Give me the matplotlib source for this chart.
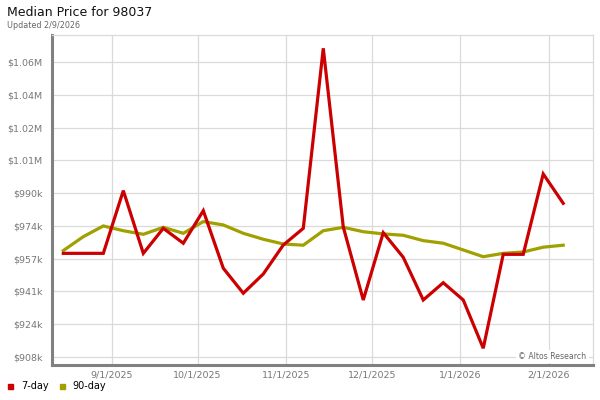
"""Median price chart for 98037: 7-day vs 90-day rolling median."""
from datetime import datetime

import matplotlib
matplotlib.use("Agg")
import matplotlib.pyplot as plt
import matplotlib.dates as mdates
import pandas as pd

# weekly observation dates
DATES = pd.date_range("2025-08-15", periods=26, freq="7D")

# median list price, $
SEVEN_DAY = [960200, 960200, 960200, 991800, 960200, 972800, 965300, 981700,
             952700, 940100, 949800, 964400, 972800, 1063500, 973500, 936700,
             970600, 958200, 936700, 945400, 936700, 912400, 959700, 959700,
             1000200, 985400]
NINETY_DAY = [961600, 968600, 974000, 971600, 969800, 973300, 970300, 976200,
              974500, 970300, 967300, 964900, 964300, 971600, 973300, 971100,
              970000, 969300, 966600, 965300, 961900, 958500, 960200, 960900,
              963300, 964300]

Y_TICKS = [908000, 924500, 941000, 957500, 974000, 990500, 1007000, 1023500,
           1040000, 1056500]
Y_LABELS = ["$908k", "$924k", "$941k", "$957k", "$974k", "$990k", "$1.01M",
            "$1.02M", "$1.04M", "$1.06M"]
X_TICKS = [datetime(2025, 9, 1), datetime(2025, 10, 1), datetime(2025, 11, 1),
           datetime(2025, 12, 1), datetime(2026, 1, 1), datetime(2026, 2, 1)]
X_LABELS = ["9/1/2025", "10/1/2025", "11/1/2025", "12/1/2025", "1/1/2026",
            "2/1/2026"]

RED = "#cc0000"
OLIVE = "#a0a000"
GRID = "#dadada"
SPINE = "#808080"

fig = plt.figure(figsize=(6, 4), dpi=100)
ax = fig.add_axes([0.0867, 0.08875, 0.9016, 0.82375])

ax.plot(DATES, NINETY_DAY, color=OLIVE, lw=2.3, solid_joinstyle="miter")
ax.plot(DATES, SEVEN_DAY, color=RED, lw=2.3, solid_joinstyle="miter")

ax.set_xlim(datetime(2025, 8, 11, 1), datetime(2026, 2, 16, 10))
ax.set_ylim(904200, 1070200)
ax.set_yticks(Y_TICKS)
ax.set_yticklabels(Y_LABELS)
ax.set_xticks(X_TICKS)
ax.set_xticklabels(X_LABELS)
ax.tick_params(length=0, labelsize=6.8, labelcolor="#777777")
ax.tick_params(axis="y", pad=7)
ax.tick_params(axis="x", pad=4)
ax.grid(color=GRID, lw=0.9)
ax.set_axisbelow(True)

for side in ("left", "bottom"):
    ax.spines[side].set_color(SPINE)
    ax.spines[side].set_linewidth(2.2)
    ax.spines[side].set_capstyle("projecting")
for side in ("top", "right"):
    ax.spines[side].set_color(GRID)
    ax.spines[side].set_linewidth(0.9)

ax.text(0.988, 0.024, "\u00a9 Altos Research", transform=ax.transAxes,
        ha="right", va="center", fontsize=5.6, color="#666666",
        bbox=dict(facecolor="white", edgecolor="none", pad=1.5))

fig.text(7 / 600, 1 - 13 / 400, "Median Price for 98037", fontsize=9,
         va="center", ha="left", color="#111111")
fig.text(7 / 600, 1 - 25 / 400, "Updated 2/9/2026", fontsize=5.8,
         va="center", ha="left", color="#666666")

# legend row under the chart
fig.patches.append(plt.Rectangle((8 / 600, 1 - 388.5 / 400), 5 / 600, 5 / 400,
                                 transform=fig.transFigure, color=RED))
fig.text(21.5 / 600, 1 - 386 / 400, "7-day", fontsize=7, va="center")
fig.patches.append(plt.Rectangle((59.5 / 600, 1 - 388.5 / 400), 5 / 600, 5 / 400,
                                 transform=fig.transFigure, color=OLIVE))
fig.text(72.5 / 600, 1 - 386 / 400, "90-day", fontsize=7, va="center")

fig.savefig("out.png", dpi=100)
